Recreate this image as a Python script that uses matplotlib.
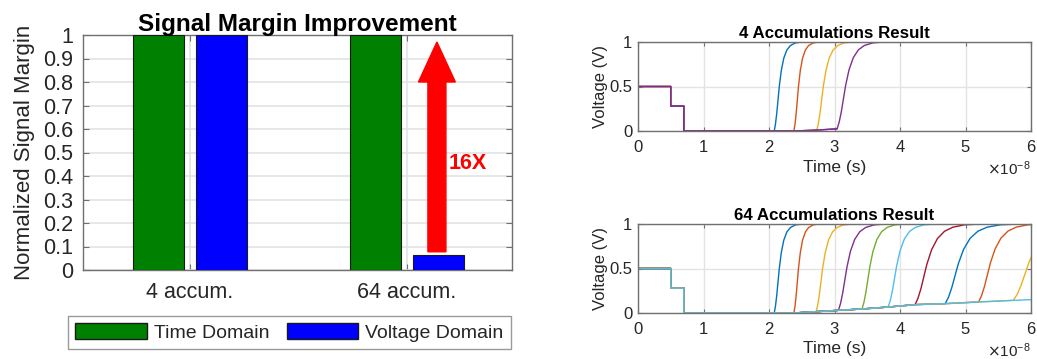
import numpy as np
import matplotlib
matplotlib.use("Agg")
import matplotlib.pyplot as plt
from matplotlib.patches import FancyArrow, Patch
from matplotlib.ticker import ScalarFormatter

plt.rcParams['font.family'] = ['Liberation Sans', 'DejaVu Sans']

# ---------------- data ----------------
categories = ['4 accum.', '64 accum.']
time_domain = [1.0, 1.0]
voltage_domain = [1.0, 0.0625]
improvement_label = '16X'

# waveform: initial staircase (time in units of 1e-8 s)
step_times = [0.0, 0.5, 0.5, 0.7, 0.7]
step_volts = [0.5, 0.5, 0.28, 0.28, 0.0]

# normalised rise shape: dt / t50 -> fraction of swing
rise_ratio = [0, 0.25, 0.5, 0.75, 1.0, 1.4, 1.9, 2.5, 3.2, 4.2, 5.5]
rise_frac = [0, 0.08, 0.2, 0.35, 0.5, 0.68, 0.82, 0.91, 0.96, 0.99, 1.0]

# 4 accumulations
top_onsets = [2.08, 2.38, 2.73, 3.04]
top_t50 = [0.077, 0.07, 0.10, 0.13]
top_base_t = [0.7, 2.38, 2.73, 3.04]
top_base_v = [0.0, 0.0, 0.01, 0.025]
top_colors = ['#0072BD', '#D95319', '#EDB120', '#7E2F8E']

# 64 accumulations
bot_onsets = [2.08, 2.38, 2.72, 3.06, 3.42, 3.82, 4.23, 4.69, 5.20, 5.73]
bot_t50 = [0.077, 0.07, 0.10, 0.13, 0.12, 0.13, 0.18, 0.20, 0.18, 0.24]
bot_base_t = [0.7, 2.38, 3.06, 3.42, 3.82, 4.23, 4.69, 5.20, 5.73, 6.0]
bot_base_v = [0.0, 0.0, 0.03, 0.045, 0.067, 0.094, 0.105, 0.124, 0.142, 0.15]
bot_colors = ['#0072BD', '#D95319', '#EDB120', '#7E2F8E', '#77AC30',
              '#4DBEEE', '#A2142F', '#0072BD', '#D95319', '#EDB120']

T_END = 6.0
SCALE = 1e-8

# ---------------- figure ----------------
W, H = 1037, 359
fig = plt.figure(figsize=(W / 100, H / 100), dpi=100)

def fx(px):
    return px / W

def fy(py):
    return 1 - py / H

spine_c = '#707070'
grid_c = '#e3e3e3'
text_c = '#262626'

# ---- left bar chart ----
ax = fig.add_axes([fx(83), fy(270), fx(512) - fx(83), fy(35) - fy(270)])
x = np.arange(1, len(categories) + 1)
bw = 0.232
off = 0.145
ax.bar(x - off, time_domain, bw, color='#008000', edgecolor='#1a1a1a', linewidth=0.8, zorder=3)
ax.bar(x + off, voltage_domain, bw, color='#0000FF', edgecolor='#1a1a1a', linewidth=0.8, zorder=3)
ax.set_xlim(0.507, 2.484)
ax.set_ylim(0, 1)
ax.set_yticks(np.round(np.arange(0, 1.01, 0.1), 1))
ax.set_yticklabels(['0'] + [f'{v:.1f}' for v in np.arange(0.1, 0.95, 0.1)] + ['1'])
ax.set_xticks(x)
ax.set_xticklabels(categories)
ax.grid(True, color=grid_c, linewidth=1.2, zorder=0)
ax.set_axisbelow(True)
ax.tick_params(direction='in', length=4, top=True, right=True, colors=spine_c,
               labelcolor=text_c, labelsize=15.5, pad=7)
ax.tick_params(axis='x', pad=9)
for s in ax.spines.values():
    s.set_color(spine_c)
    s.set_linewidth(1.0)
ax.set_ylabel('Normalized Signal Margin', fontsize=16, color=text_c, labelpad=6)
ax.set_title('Signal Margin Improvement', fontsize=17.5, fontweight='bold', pad=3)

# improvement arrow
ax_x = x[1] + 0.138
y0 = voltage_domain[1] + 0.015
y1 = 0.97
arr = FancyArrow(ax_x, y0, 0, y1 - y0, width=0.083, head_width=0.17,
                 head_length=0.17, length_includes_head=True,
                 color='#FF0000', zorder=4)
ax.add_patch(arr)
ax.text(x[1] + 0.19, 0.455, improvement_label, color='#FF0000', fontsize=15.5,
        fontweight='bold', va='center', ha='left', zorder=5)

handles = [Patch(facecolor='#008000', edgecolor='#1a1a1a', label='Time Domain'),
           Patch(facecolor='#0000FF', edgecolor='#1a1a1a', label='Voltage Domain')]
leg = fig.legend(handles=handles, loc='center', ncol=2,
                 bbox_to_anchor=(fx(289.5), fy(332.5)),
                 fontsize=14, handlelength=3.66, handleheight=0.88,
                 handletextpad=0.36, columnspacing=0.93, borderpad=0.36,
                 borderaxespad=0, fancybox=False, frameon=True)
leg.get_frame().set_edgecolor('#808080')
leg.get_frame().set_linewidth(1.0)
for t in leg.get_texts():
    t.set_color(text_c)

# ---- right waveform panels ----
def trace(onset, t50, base_t, base_v):
    bt = [t for t in base_t if t < onset]
    bv = [v for t, v in zip(base_t, base_v) if t < onset]
    b0 = float(np.interp(onset, base_t, base_v))
    rt = [onset + r * t50 for r in rise_ratio]
    rv = [b0 + (1 - b0) * f for f in rise_frac]
    t = step_times + bt + rt + [T_END]
    v = step_volts + bv + rv + [1.0]
    return np.array(t), np.array(v)

def panel(rect, title, onsets, t50s, base_t, base_v, colors, common_color):
    a = fig.add_axes(rect)
    for on, t50, c in zip(onsets, t50s, colors):
        t, v = trace(on, t50, base_t, base_v)
        a.plot(t * SCALE, v, color=c, linewidth=1.0)
    ct = step_times + list(base_t)
    cv = step_volts + list(base_v)
    a.plot(np.array(ct) * SCALE, cv, color=common_color, linewidth=1.0)
    a.set_xlim(0, T_END * SCALE)
    a.set_ylim(0, 1)
    a.set_xticks(np.arange(0, 7) * SCALE)
    a.set_yticks([0, 0.5, 1])
    a.set_yticklabels(['0', '0.5', '1'])
    fmt = ScalarFormatter(useMathText=True)
    fmt.set_powerlimits((-3, 3))
    a.xaxis.set_major_formatter(fmt)
    a.xaxis.get_offset_text().set_fontsize(11)
    a.xaxis.get_offset_text().set_color(text_c)
    a.grid(True, color=grid_c, linewidth=1.0)
    a.set_axisbelow(True)
    a.tick_params(direction='in', length=3, top=True, right=True, colors=spine_c,
                  labelcolor=text_c, labelsize=12, pad=4)
    a.tick_params(axis='x', pad=6)
    for s in a.spines.values():
        s.set_color(spine_c)
        s.set_linewidth(1.0)
    a.set_xlabel('Time (s)', fontsize=12.5, color=text_c, labelpad=3)
    a.set_ylabel('Voltage (V)', fontsize=12, color=text_c, labelpad=1)
    a.set_title(title, fontsize=12.2, fontweight='bold', pad=3)
    return a

panel([fx(638), fy(131), fx(1031) - fx(638), fy(42) - fy(131)],
      '4 Accumulations Result', top_onsets, top_t50, top_base_t, top_base_v,
      top_colors, '#7E2F8E')
panel([fx(638), fy(313), fx(1031) - fx(638), fy(224) - fy(313)],
      '64 Accumulations Result', bot_onsets, bot_t50, bot_base_t, bot_base_v,
      bot_colors, '#4DBEEE')

fig.savefig('out.png', dpi=100)
